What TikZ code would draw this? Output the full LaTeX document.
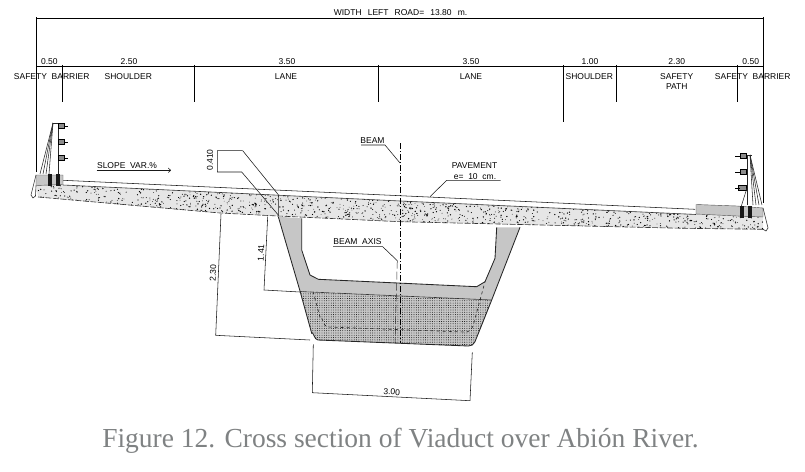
\documentclass[tikz,border=0pt]{standalone}
\usepackage{fontspec}
\setmainfont{Liberation Sans}
\newfontfamily\capfont{Liberation Serif}
\usetikzlibrary{patterns.meta, arrows.meta}
\definecolor{webgray}{HTML}{C6C6C6}
\definecolor{slabgray}{HTML}{E6E6E6}
\definecolor{capgray}{HTML}{7F8283}
\tikzset{
  cad/.style={inner sep=0pt, font=\fontsize{8.5}{10}\selectfont},
  dim/.style={line width=0.75pt, black},
  thinline/.style={line width=0.55pt, black!90},
}
\begin{document}
\begin{tikzpicture}[x=1pt, y=-1pt]
\useasboundingbox (0,0) rectangle (805,471);

% top dimension lines
\coordinate (topL) at (36.5,18.3);
\coordinate (topR) at (763,18.3);
\coordinate (rowL) at (36.5,66.3);
\coordinate (rowR) at (763,66.3);
\draw[dim] (36.5,172) -- (36.5,16.8) (topL) -- (topR) (763,16.8) -- (763,203);
\draw[dim] (rowL) -- (rowR);
\foreach \tx/\ty in {62.3/102, 194.5/102, 378.5/102, 563.4/122, 616.3/102, 737.3/102}
  \draw[dim] (\tx,64.8) -- (\tx,\ty);

\path
(400.5,13) node[cad] (width) {WIDTH~~\,LEFT~~\,ROAD=~~\,13.80~~\,m.}
(49.3,61.5) node[cad] (wa) {0.50}
(129,61.5) node[cad] (wb) {2.50}
(287,61.5) node[cad] (wc) {3.50}
(471,61.5) node[cad] (wd) {3.50}
(590,61.5) node[cad] (we) {1.00}
(676.7,61.5) node[cad] (wf) {2.30}
(750.7,61.5) node[cad] (wg) {0.50}
(51.7,76.7) node[cad] (sbL) {SAFETY~~BARRIER}
(128.3,76.7) node[cad] (shL) {SHOULDER}
(286,76.7) node[cad] (laL) {LANE}
(471,76.7) node[cad] (laR) {LANE}
(589.3,76.7) node[cad] (shR) {SHOULDER}
(676.7,81.5) node[cad, align=center] (path) {SAFETY\\PATH}
(752.7,76.7) node[cad] (sbR) {SAFETY~~BARRIER};

% slab
\fill[slabgray] (36,185) -- (63,185) -- (763,217) -- (763,229.3) -- (683,228.3)
  -- (400,221.7) -- (278,216) -- (220,213) -- (38,197) -- cycle;
\begin{scope}
\clip (36,185) -- (63,185) -- (763,217) -- (763,229.3) -- (683,228.3)
  -- (400,221.7) -- (278,216) -- (220,213) -- (38,197) -- cycle;
\pgfmathsetseed{1204}
\foreach \i in {1,...,1100}{
  \pgfmathsetmacro{\sx}{38+725*rnd}
  \pgfmathsetmacro{\sy}{185+(\sx-63)*0.0457+21*rnd+0.5}
  \pgfmathsetmacro{\sr}{0.35+0.4*rnd}
  \fill[black] (\sx,\sy) circle (\sr pt);
}
\end{scope}
\draw[thinline] (63,180.3) -- (400,195.7) -- (695,209.3);
\draw[line width=0.6pt, black!80] (63,185) -- (400,201) -- (696,214.5);
\draw[line width=0.6pt, black!80, dash pattern=on 6pt off 1.5pt]
  (38,197) -- (220,213) -- (278,216) -- (400,221.7) -- (683,228.3) -- (763,229.3);

% curbs and barriers
\filldraw[fill=webgray, draw=black!70, line width=0.4pt] (36,175) -- (63,175) -- (63,184.5) -- (36,185.5) -- cycle;
\draw[black!80, line width=0.6pt] (36,175) -- (31,195) -- (33,198) -- (35.5,196) -- (36,185.5);
\filldraw[fill=webgray, draw=black!70, line width=0.4pt] (696,204.5) -- (737,206) -- (763,208) -- (763,217)
  -- (737,216) -- (696,214) -- cycle;
\draw[black!80, line width=0.6pt] (763,208) -- (768,228) -- (766,231) -- (763,229.3);
\foreach \bx in {40,43,46,49}
  \draw[black!85, line width=0.55pt] (\bx,174) -- (53,123);
\draw[black!85, line width=0.6pt] (58,123) -- (58,174) (53,123) -- (64,123);
\foreach \by in {126,142,158}{
  \filldraw[fill=black!45, draw=black, line width=1pt] (58.5,\by-2.5) rectangle (64,\by+2.5);
  \draw[black, line width=0.5pt] (64,\by) -- (68,\by);
}
\foreach \bx in {50,58}
  \fill[black!90] (\bx-1.7,174) rectangle (\bx+1.7,186);
\foreach \bx in {762,759,756,753}
  \draw[black!85, line width=0.55pt] (\bx,205) -- (750,155);
\draw[black!85, line width=0.6pt] (747,155) -- (747,205) (741,155) -- (752,155);
\foreach \by/\bw in {156/5.5,172/5.5,188/7.5}{
  \filldraw[fill=black!45, draw=black, line width=1pt] (746,\by-2.5) rectangle (746-\bw,\by+2.5);
  \draw[black, line width=0.5pt] (740,\by) -- (735,\by);
}
\draw[black!85, line width=0.55pt] (747,188) -- (741,207);
\foreach \bx in {742,750}
  \fill[black!90] (\bx-1.7,206) rectangle (\bx+1.7,218);

% beam
\fill[webgray] (278.3,216.7) -- (300,291) -- (491.7,300) -- (520,227.3) -- (496.7,227.3)
  -- (495,258.3) -- (485,281.7) -- (476.7,286.7) -- (318.3,279.3) -- (310,275) -- (301.7,250) -- (301.7,218.3) -- cycle;
\path[fill=webgray] (300,291.5) -- (311.7,333.3) to[out=75,in=185] (318,340) -- (468.3,346)
  to[out=-5,in=-115] (475,341.7) -- (491.7,300) -- cycle;
\path[pattern={Dots[distance=2.3pt,radius=0.45pt]}, pattern color=black] (300,291.5) -- (311.7,333.3) to[out=75,in=185] (318,340) -- (468.3,346)
  to[out=-5,in=-115] (475,341.7) -- (491.7,300) -- cycle;
\draw[line width=0.85pt, black!85] (278.3,216.7) -- (300,291) -- (311.7,333.3) to[out=75,in=185] (318,340) -- (468.3,346)
  to[out=-5,in=-115] (475,341.7) -- (491.7,300) -- (520,227.3);
\draw[line width=0.85pt, black!85] (301.7,218.3) -- (301.7,250) -- (310,275) -- (318.3,279.3) -- (476.7,286.7)
  -- (485,281.7) -- (495,258.3) -- (496.7,227.3);
\draw[line width=0.6pt, black!80] (300,291.5) -- (491.7,300);
\draw[line width=0.6pt, black!85, dashed] (313,291.5) -- (320,317) to[out=75,in=185] (328,327) -- (465,332)
  to[out=-5,in=-115] (473,326) -- (485,281.7);

% axis
\coordinate (axisTop) at (400,143);
\coordinate (axisBot) at (400,343);
\draw[line width=0.8pt, dash pattern=on 6pt off 2pt on 1pt off 2pt] (axisTop) -- (axisBot);
\draw[line width=0.5pt, black!80, dash pattern=on 8pt off 3pt] (397.3,260.7) -- (395,343);

% labels with leaders
\node[cad] (beam) at (372.5,141) {BEAM};
\draw[thinline] (361,145) -- (385,145) -- (400,163);
\node[cad] (beamaxis) at (357.5,242) {BEAM~~AXIS};
\draw[thinline] (333,246.7) -- (382.7,246.7) -- (397.3,260.7);
\node[cad] (pave) at (474.5,166) {PAVEMENT};
\node[cad] (thick) at (475,176.5) {e=~~10~~cm.};
\draw[thinline] (500.7,180.3) -- (446.7,180.3) -- (430,196.7);
\node[cad] (slope) at (127,166) {SLOPE~~VAR.\%};
\draw[thinline, -{To[length=3pt,width=5pt]}] (96.7,170.3) -- (171,170.3);

% beam dimensions
\node[cad, rotate=90] (dtop) at (210,160) {0.410};
\draw[thinline] (242.7,150.7) -- (217.3,150.7) -- (217.3,172) -- (241.7,172) -- (278.3,215);
\draw[thinline] (242.7,150.7) -- (278.3,194.7) -- (278.3,216);
\node[cad, rotate=88] (dwebb) at (261,252.7) {1.41};
\draw[thinline] (267.7,216.7) -- (264,290) -- (300,292);
\node[cad, rotate=88] (dtot) at (213,273.3) {2.30};
\draw[thinline] (221,214) -- (215.7,335.3) -- (310,340);
\node[cad, rotate=-3] (dbot) at (391.7,392) {3.00};
\draw[thinline] (313.3,344.3) -- (312.3,392.7) -- (470,400.7) -- (472.3,352.3);

% caption
\node[inner sep=0pt, text=capgray, font=\capfont\fontsize{27.5}{30}\selectfont] (caption) at (400.5,441)
  {Figure 12. Cross section of Viaduct over Abión River.};
\end{tikzpicture}
\end{document}
